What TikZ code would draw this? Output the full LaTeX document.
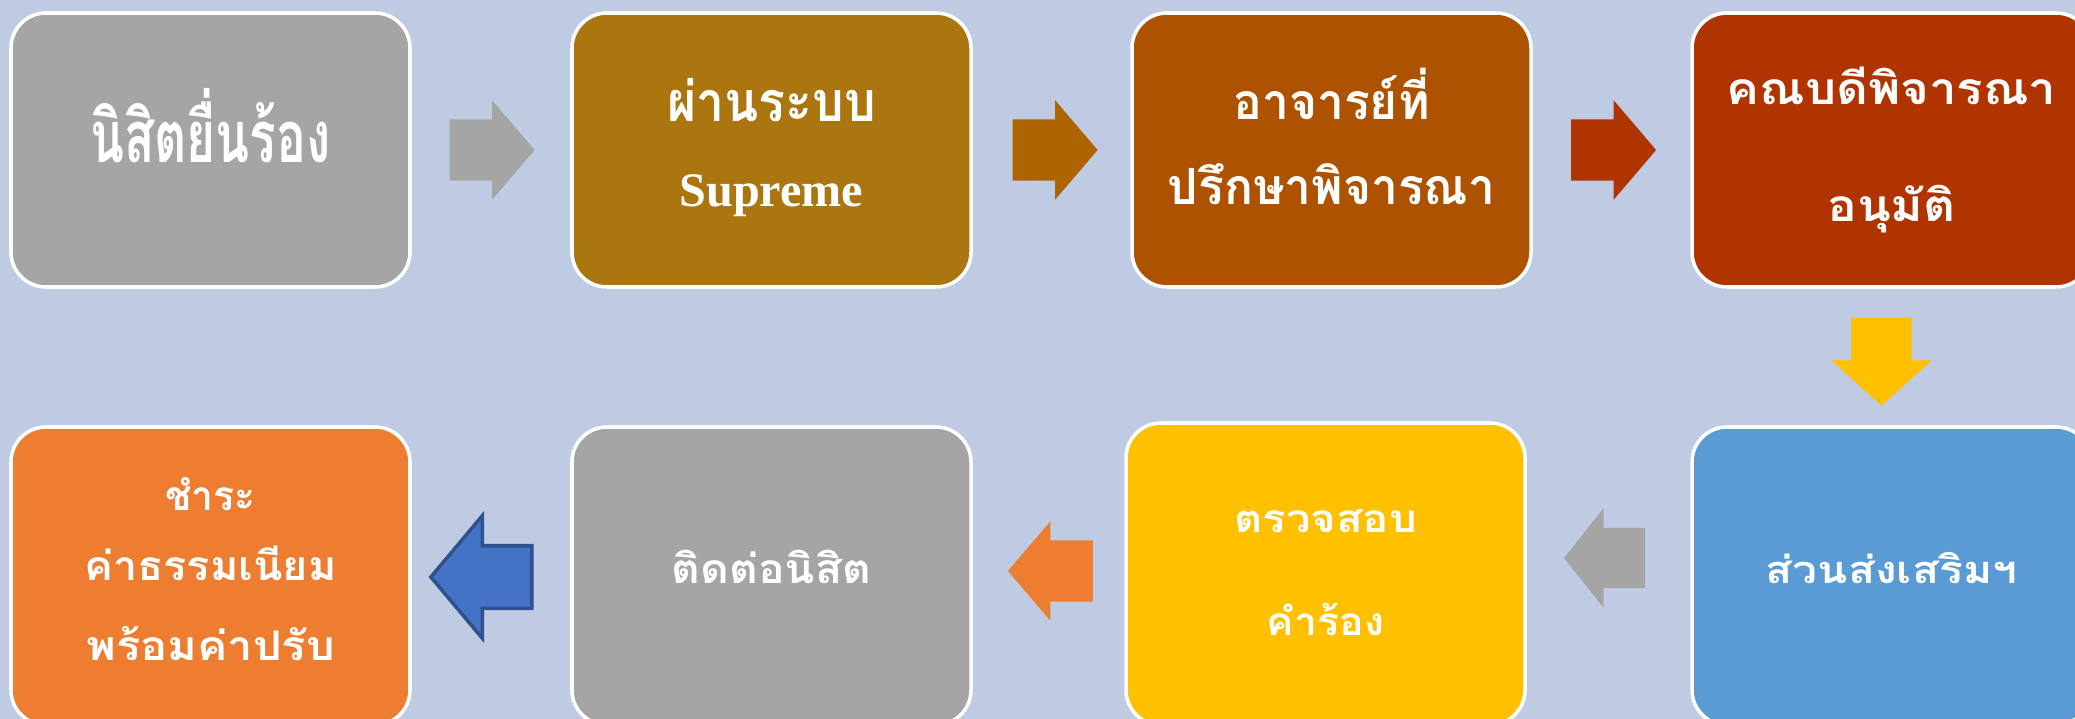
\documentclass[tikz,border=0pt]{standalone}
\usepackage{fontspec}
\usepackage{graphicx}
\setmainfont{Liberation Serif}
\newfontfamily\thaifont[Script=Thai]{Loma}
\usetikzlibrary{shapes.arrows}

\definecolor{bgblue}{HTML}{BFCBE3}
\definecolor{boxgray}{HTML}{A5A5A5}
\definecolor{boxgold}{HTML}{AB760F}
\definecolor{boxbrown}{HTML}{AD5200}
\definecolor{boxred}{HTML}{B03400}
\definecolor{boxorange}{HTML}{ED7D31}
\definecolor{boxyellow}{HTML}{FFC000}
\definecolor{boxblue}{HTML}{5B9BD5}
\definecolor{arrbrown}{HTML}{AE6400}
\definecolor{arrblue}{HTML}{4472C4}
\definecolor{arrblueline}{HTML}{2F528F}

\begin{document}
\begin{tikzpicture}[
    box/.style={rounded corners=0.35cm,draw=white,line width=1pt,minimum width=3.99cm,inner sep=0pt},
    txt/.style={text=white,inner sep=0pt,anchor=base},
    fs/.style={font=\thaifont\bfseries\fontsize{#1}{#1}\selectfont},
    arr/.style={single arrow,inner xsep=0pt,inner ysep=0.30cm,minimum width=1pt,minimum height=0.85cm,single arrow head extend=0.19cm,single arrow tip angle=99}
]
\fill[bgblue] (0,0) rectangle (20.75,-7.19);
\useasboundingbox (0,0) rectangle (20.75,-7.19);

% top row
\node[box,fill=boxgray,minimum height=2.74cm] (claim) at (2.105,-1.50) {};
\node[box,fill=boxgold,minimum height=2.74cm] (system) at (7.715,-1.50) {};
\node[box,fill=boxbrown,minimum height=2.74cm] (advisor) at (13.315,-1.50) {};
\node[box,fill=boxred,minimum height=2.74cm] (dean) at (18.915,-1.50) {};

% bottom row
\node[box,fill=boxblue,minimum height=2.98cm] (office) at (18.915,-5.76) {};
\node[box,fill=boxyellow,minimum height=3.02cm] (check) at (13.255,-5.74) {};
\node[box,fill=boxgray,minimum height=2.98cm] (contact) at (7.715,-5.76) {};
\node[box,fill=boxorange,minimum height=2.98cm] (pay) at (2.105,-5.76) {};

% texts
\node[txt,fs=20.5] (claimtxt) at (2.105,-1.63) {\scalebox{0.69}[1]{นิสิตยื่นร้อง}};
\node[txt,fs=15.8] (systxta) at (7.715,-1.22) {\scalebox{0.90}[1]{ผ่านระบบ}};
\node[txt,font=\bfseries\fontsize{13.7}{14}\selectfont] (systxtb) at (7.715,-2.07) {Supreme};
\node[txt,fs=14.2] (advtxta) at (13.315,-1.20) {\scalebox{0.96}[1]{อาจารย์ที่}};
\node[txt,fs=14.2] (advtxtb) at (13.315,-2.05) {\scalebox{0.96}[1]{ปรึกษาพิจารณา}};
\node[txt,fs=12.6] (deantxta) at (18.915,-1.05) {\scalebox{1.11}[1]{คณบดีพิจารณา}};
\node[txt,fs=12.6] (deantxtb) at (18.915,-2.22) {\scalebox{1.12}[1]{อนุมัติ}};
\node[txt,fs=10.8] (officetxt) at (18.915,-5.83) {\scalebox{1.17}[1]{ส่วนส่งเสริมฯ}};
\node[txt,fs=11] (checktxta) at (13.255,-5.32) {\scalebox{1.13}[1]{ตรวจสอบ}};
\node[txt,fs=11] (checktxtb) at (13.255,-6.35) {\scalebox{1.06}[1]{คำร้อง}};
\node[txt,fs=11.6] (contacttxt) at (7.715,-5.83) {\scalebox{1.09}[1]{ติดต่อนิสิต}};
\node[txt,fs=11.6] (paytxta) at (2.105,-5.10) {\scalebox{0.96}[1]{ชำระ}};
\node[txt,fs=11.6] (paytxtb) at (2.105,-5.80) {\scalebox{1.06}[1]{ค่าธรรมเนียม}};
\node[txt,fs=11.6] (paytxtc) at (2.105,-6.60) {\scalebox{1.11}[1]{พร้อมค่าปรับ}};

% arrows
\node[arr,fill=boxgray] (a1) at (4.79,-1.50) {};
\node[arr,fill=arrbrown] (a2) at (10.42,-1.50) {};
\node[arr,fill=boxred] (a3) at (16.005,-1.50) {};
\node[arr,fill=boxyellow,rotate=270,inner ysep=0.295cm,minimum height=0.88cm,single arrow head extend=0.20cm,single arrow tip angle=96] (a4) at (18.815,-3.48) {};
\node[arr,fill=boxgray,rotate=180,inner ysep=0.295cm,single arrow head extend=0.195cm,minimum height=0.81cm,single arrow tip angle=103] (a5) at (16.165,-5.58) {};
\node[arr,fill=boxorange,rotate=180] (a6) at (10.635,-5.71) {};
\node[arr,fill=arrblue,draw=arrblueline,line width=1pt,rotate=180,inner ysep=0.295cm,minimum height=1.01cm,single arrow head extend=0.30cm,single arrow tip angle=100] (a7) at (4.945,-5.77) {};
\end{tikzpicture}
\end{document}
